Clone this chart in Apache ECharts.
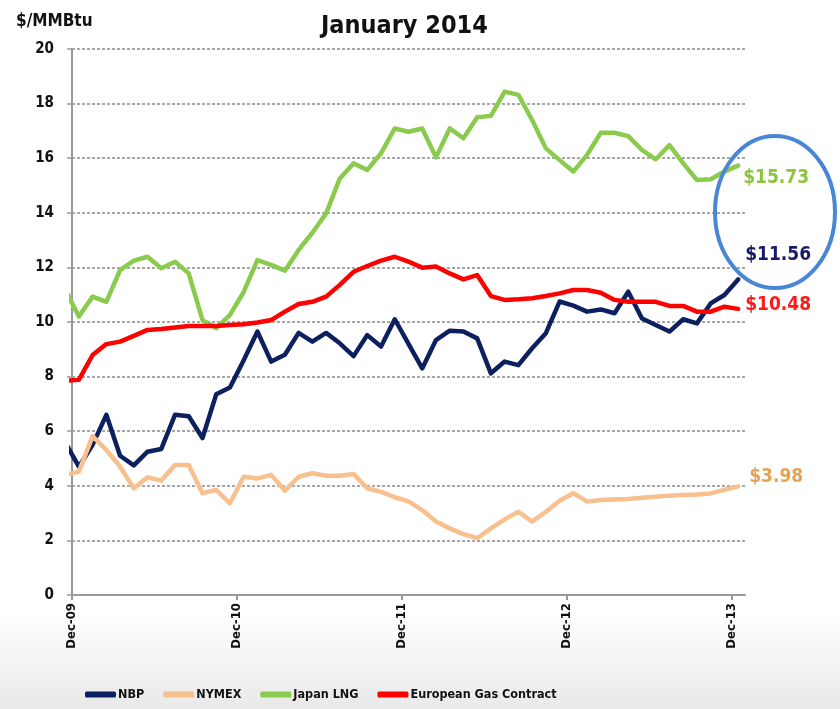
<!DOCTYPE html>
<html>
<head>
<meta charset="utf-8">
<script src="https://cdn.jsdelivr.net/npm/echarts@6/dist/echarts.min.js"></script>
<style>html,body{margin:0;padding:0;background:#fff}#c{width:840px;height:709px}</style>
</head>
<body>
<div id="c"></div>
<script>
// Months: first entry (Nov-09) lies just left of the axis start and is clipped
const months = ['Nov-09','Dec-09','Jan-10','Feb-10','Mar-10','Apr-10','May-10','Jun-10','Jul-10','Aug-10','Sep-10','Oct-10','Nov-10',
  'Dec-10','Jan-11','Feb-11','Mar-11','Apr-11','May-11','Jun-11','Jul-11','Aug-11','Sep-11','Oct-11','Nov-11',
  'Dec-11','Jan-12','Feb-12','Mar-12','Apr-12','May-12','Jun-12','Jul-12','Aug-12','Sep-12','Oct-12','Nov-12',
  'Dec-12','Jan-13','Feb-13','Mar-13','Apr-13','May-13','Jun-13','Jul-13','Aug-13','Sep-13','Oct-13','Nov-13','Dec-13'];
const tickLabels = ['Dec-09','Dec-10','Dec-11','Dec-12','Dec-13'];

const nbp = [5.6, 4.7, 5.5, 6.6, 5.1, 4.75, 5.25, 5.35, 6.6, 6.55, 5.75, 7.35, 7.6,
  8.6, 9.65, 8.55, 8.8, 9.6, 9.28, 9.6, 9.22, 8.75, 9.52, 9.1, 10.1,
  9.2, 8.3, 9.34, 9.68, 9.65, 9.4, 8.12, 8.55, 8.42, 9.04, 9.59, 10.75,
  10.6, 10.38, 10.46, 10.32, 11.11, 10.13, 9.89, 9.65, 10.1, 9.95, 10.68, 10.99, 11.56];
const nymex = [4.4, 4.52, 5.82, 5.31, 4.7, 3.91, 4.31, 4.19, 4.76, 4.76, 3.73, 3.85, 3.36,
  4.33, 4.27, 4.4, 3.82, 4.33, 4.46, 4.37, 4.37, 4.43, 3.91, 3.78, 3.58,
  3.43, 3.11, 2.69, 2.44, 2.23, 2.08, 2.44, 2.77, 3.05, 2.69, 3.05, 3.45,
  3.73, 3.42, 3.48, 3.5, 3.52, 3.56, 3.6, 3.64, 3.66, 3.68, 3.72, 3.85, 3.98];
const japanLng = [11.2, 10.2, 10.93, 10.74, 11.9, 12.25, 12.39, 11.97, 12.21, 11.78, 10.07, 9.77, 10.26,
  11.1, 12.27, 12.09, 11.88, 12.64, 13.27, 13.98, 15.26, 15.81, 15.57, 16.18, 17.09,
  16.97, 17.09, 16.03, 17.09, 16.73, 17.5, 17.55, 18.44, 18.32, 17.4, 16.36, 15.93,
  15.51, 16.12, 16.93, 16.93, 16.81, 16.3, 15.96, 16.48, 15.81, 15.2, 15.23, 15.51, 15.73];
const european = [7.85, 7.88, 8.79, 9.19, 9.28, 9.49, 9.71, 9.74, 9.8, 9.85, 9.85, 9.85, 9.89,
  9.92, 9.98, 10.07, 10.38, 10.66, 10.74, 10.93, 11.36, 11.84, 12.05, 12.25, 12.39,
  12.21, 11.99, 12.03, 11.78, 11.56, 11.72, 10.95, 10.81, 10.83, 10.87, 10.95, 11.05,
  11.17, 11.17, 11.07, 10.81, 10.74, 10.74, 10.74, 10.59, 10.59, 10.38, 10.38, 10.56, 10.48];

const FONT = "'Liberation Sans Narrow', 'DejaVu Sans Condensed', 'Noto Sans', sans-serif";
// data points sit mid-month; axis value 0 = start of Dec-09
const toPts = arr => arr.map((v, i) => [i - 0.5, v]);

function mk(name, arr, color, labelColor, offset) {
  return {
    name, type: 'line', data: toPts(arr), symbol: 'none', clip: true,
    lineStyle: { color, width: 4.5, cap: 'round', join: 'round' },
    itemStyle: { color },
    endLabel: {
      show: true, distance: 5, offset,
      formatter: p => '$' + p.value[1].toFixed(2),
      color: labelColor, fontFamily: FONT, fontWeight: 'bold', fontSize: 19
    }
  };
}

const chart = echarts.init(document.getElementById('c'), null, { renderer: 'canvas' });
chart.setOption({
  animation: false,
  backgroundColor: { type: 'linear', x: 0, y: 0, x2: 0, y2: 1,
    colorStops: [{ offset: 0, color: '#ffffff' }, { offset: 0.86, color: '#ffffff' }, { offset: 1, color: '#e9e9e9' }] },
  title: [
    { text: 'January 2014', left: 316, top: 9,
      textStyle: { fontFamily: FONT, fontWeight: 'bold', fontSize: 25, color: '#111' } },
    { text: '$/MMBtu', left: 11, top: 8,
      textStyle: { fontFamily: FONT, fontWeight: 'bold', fontSize: 17, color: '#111' } }
  ],
  grid: { left: 72, right: 95, top: 49, bottom: 114 },
  legend: {
    bottom: 3, left: 80, itemWidth: 31, itemHeight: 6, itemGap: 19, icon: 'roundRect',
    textStyle: { fontFamily: FONT, fontWeight: 'bold', fontSize: 12.5, color: '#111', padding: [0, 0, 0, -3] },
    data: ['NBP', 'NYMEX', 'Japan LNG', 'European Gas Contract']
  },
  xAxis: {
    type: 'value', min: 0, max: 49,
    axisLine: { show: true, lineStyle: { color: '#999', width: 2 } },
    axisTick: { show: true, length: 5, lineStyle: { color: '#999', width: 2 }, customValues: [0, 12, 24, 36, 48] },
    axisLabel: {
      customValues: [0, 12, 24, 36, 48], rotate: 90, margin: 8,
      formatter: v => tickLabels[v / 12],
      fontFamily: FONT, fontWeight: 'bold', fontSize: 13, color: '#111'
    },
    splitLine: { show: false }
  },
  yAxis: {
    type: 'value', min: 0, max: 20, interval: 2,
    axisLine: { show: true, lineStyle: { color: '#999', width: 2 } },
    axisTick: { show: true, length: 5, lineStyle: { color: '#999', width: 1.5 } },
    axisLabel: { fontFamily: FONT, fontWeight: 'bold', fontSize: 15, color: '#111', margin: 18 },
    splitLine: { show: true, lineStyle: { color: '#8a8a8a', width: 1.5, type: [3, 2] } }
  },
  graphic: [{
    type: 'ellipse', shape: { cx: 775, cy: 212, rx: 60, ry: 76 },
    style: { fill: 'none', stroke: '#4a86d6', lineWidth: 4 }, z: 100
  }],
  series: [
    mk('NBP', nbp, '#0c1f5e', '#1a1a6a', [2, -24]),
    mk('NYMEX', nymex, '#f8bf8f', '#e6a356', [6, -9]),
    mk('Japan LNG', japanLng, '#8acb4e', '#8cc43c', [0, 12]),
    mk('European Gas Contract', european, '#ff0000', '#ff1a1a', [2, -4])
  ]
});
</script>
</body>
</html>
